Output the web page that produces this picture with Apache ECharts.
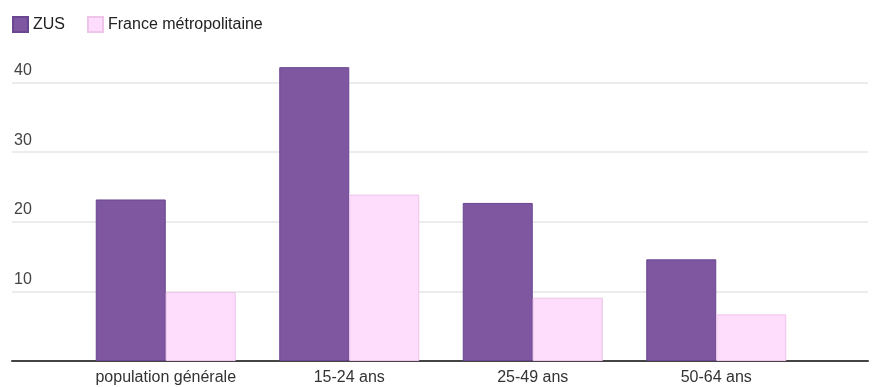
<!DOCTYPE html>
<html>
<head>
<meta charset="utf-8">
<script src="https://cdn.jsdelivr.net/npm/echarts@6/dist/echarts.min.js"></script>
<style>
  html, body { margin: 0; padding: 0; background: #fff; }
  #chart { width: 882px; height: 387px; }
</style>
</head>
<body>
<div id="chart"></div>
<script>
/* Chômage : ZUS vs France métropolitaine */
var categories = ['population générale', '15-24 ans', '25-49 ans', '50-64 ans'];
var zus = [23.2, 42.2, 22.7, 14.6];
var france = [9.9, 23.9, 9.1, 6.7];
var yTicks = [0, 10, 20, 30, 40];

(function () {
  var font = '"Liberation Sans", Arial, Helvetica, sans-serif';
  var c = echarts.init(document.getElementById('chart'), null, { renderer: 'canvas' });
  c.setOption({
    animation: false,
    textStyle: { fontFamily: font },
    legend: {
      left: 12, top: 16, padding: 0, itemWidth: 15, itemHeight: 15, itemGap: 22,
      icon: 'rect',
      textStyle: { color: '#222', fontSize: 16, fontFamily: font },
      data: ['ZUS', 'France métropolitaine']
    },
    grid: [
      { left: 12, right: 14, top: 82.5, bottom: 26 },
      { left: 74, right: 74, top: 82.5, bottom: 26 }
    ],
    xAxis: [
      { gridIndex: 0, type: 'value', min: 0, max: 1, axisLine: { show: true, lineStyle: { color: '#444', width: 2 } },
        axisTick: { show: false }, axisLabel: { show: false }, splitLine: { show: false } },
      { gridIndex: 1, type: 'category', data: categories, axisLine: { show: false }, axisTick: { show: false },
        axisLabel: { color: '#333', fontSize: 16, margin: 9, fontFamily: font } }
    ],
    yAxis: [
      { gridIndex: 0, type: 'value', min: yTicks[0], max: yTicks[yTicks.length - 1], interval: 10,
        axisLine: { show: false }, axisTick: { show: false },
        splitLine: { lineStyle: { color: '#e6e6e6', width: 1.5 } },
        axisLabel: {
          inside: true, margin: 2, verticalAlign: 'bottom', padding: [0, 0, 4, 0],
          color: '#444', fontSize: 16, fontFamily: font,
          formatter: function (v) { return v === 0 ? '' : String(v); }
        } },
      { gridIndex: 1, type: 'value', min: yTicks[0], max: yTicks[yTicks.length - 1], show: false }
    ],
    series: [
      { name: 'ZUS', type: 'bar', xAxisIndex: 1, yAxisIndex: 1, data: zus, clip: false,
        barWidth: 70, barGap: '0%',
        itemStyle: { color: '#7e57a0', borderColor: '#6a4590', borderWidth: 1 } },
      { name: 'France métropolitaine', type: 'bar', xAxisIndex: 1, yAxisIndex: 1, data: france, clip: false,
        barWidth: 70, barGap: '0%',
        itemStyle: { color: '#fddcfc', borderColor: '#efc4e9', borderWidth: 1 } }
    ]
  });
  window.addEventListener('resize', function () { c.resize(); });
})();
</script>
</body>
</html>
